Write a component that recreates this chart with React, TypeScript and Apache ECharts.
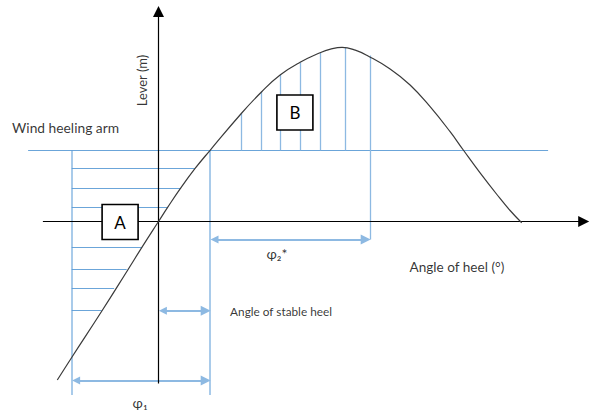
import React, { useEffect, useRef } from "react";
import * as echarts from "echarts";

// Righting lever curve (angle of heel in degrees, lever in m)
const curveDeg = [-25.3, -21.7, -14.2, -7.8, -3.8, 0, 2.2, 5.4, 9.1, 12.9, 20.7, 25.8, 30.4, 35.4, 40.4, 43.0, 45.9, 49.2, 52.4, 57.9, 62.9, 67.9, 72.9, 76.2, 80.4, 84.6, 87.9, 90.8];
const curveLever = [-0.7925, -0.68, -0.449, -0.246, -0.118, 0, 0.068, 0.163, 0.264, 0.356, 0.54, 0.649, 0.7325, 0.796, 0.844, 0.862, 0.871, 0.857, 0.8275, 0.7625, 0.6825, 0.574, 0.449, 0.3575, 0.243, 0.135, 0.055, -0.006];

// Wind heeling arm
const windLever = 0.356;
const windFrom = -32.6;
const windTo = 97.4;

// Characteristic angles
const phi1Start = -21.7;
const stableAngle = 12.9;
const phi2Angle = 52.9;
const phi2Top = 0.83;
const boundaryBottom = -0.8675;

// Area A hatching (horizontal lines): lever, end angle at the curve
const hatchALever = [0.266, 0.166, 0.069, -0.129, -0.2375, -0.334, -0.446];
const hatchAEnd = [9.1, 5.4, 2.2, -4.2, -7.95, -11.1, -14.2];

// Area B hatching (vertical lines): angle, top lever at the curve
const hatchBDeg = [20.7, 25.6, 30.4, 35.4, 40.4, 46.6];
const hatchBTop = [0.54, 0.649, 0.7325, 0.796, 0.844, 0.871];

// Dimension arrows: lever, from, to
const arrowLever = [-0.09, -0.446, -0.795];
const arrowFrom = [stableAngle, 0, phi1Start];
const arrowTo = [phi2Angle, stableAngle, stableAngle];

// Axes extents
const xAxisFrom = -28.9;
const xAxisTo = 107.6;
const yAxisFrom = -0.81;
const yAxisTo = 1.075;

const FONT = "Lato, 'Open Sans', sans-serif";

export default function App() {
  const ref = useRef<HTMLDivElement>(null);
  useEffect(() => {
    if (!ref.current) return;
    const chart = echarts.init(ref.current, undefined, { renderer: "svg" });

    const blue = "#5B9BD5";
    const lightBlue = "#A9CBEA";

    const hatchLines: any[] = [];
    hatchALever.forEach((lv, i) => hatchLines.push({ coords: [[phi1Start, lv], [hatchAEnd[i], lv]] }));
    hatchLines.push({ coords: [[windFrom, windLever], [windTo, windLever]] });

    const hatchVert: any[] = [];
    hatchBDeg.forEach((d, i) => hatchVert.push({ coords: [[d, windLever], [d, hatchBTop[i]]] }));
    hatchVert.push({ coords: [[phi2Angle, phi2Top], [phi2Angle, arrowLever[0]]] });

    const boundaryLines = [
      { coords: [[phi1Start, windLever], [phi1Start, boundaryBottom]] },
      { coords: [[stableAngle, windLever], [stableAngle, boundaryBottom]] },
    ];

    const inset = 1.1;
    const arrows = arrowLever.map((lv, i) => ({
      coords: [[arrowFrom[i] + inset, lv], [arrowTo[i] - inset, lv]],
    }));

    const labels = [
      { name: "Wind heeling arm", value: [-36.6, 0.47], pos: "right", size: 13.8 },
      { name: "φ₂*", value: [29.6, -0.16], pos: "inside", size: 14 },
      { name: "Angle of heel (°)", value: [74.6, -0.228], pos: "inside", size: 13.6 },
      { name: "Angle of stable heel", value: [17.9, -0.448], pos: "right", size: 11.8 },
      { name: "φ₁", value: [-4.6, -0.905], pos: "inside", size: 14 },
    ];

    chart.setOption({
      animation: false,
      grid: { left: 0, top: 0, right: 0, bottom: 0 },
      xAxis: { type: "value", min: -39.625, max: 108.375, show: false },
      yAxis: { type: "value", min: -0.9625, max: 1.1075, show: false },
      series: [
        {
          type: "lines",
          coordinateSystem: "cartesian2d",
          z: 2,
          lineStyle: { color: lightBlue, width: 2, opacity: 1 },
          data: boundaryLines,
        },
        {
          type: "lines",
          coordinateSystem: "cartesian2d",
          z: 3,
          lineStyle: { color: blue, width: 1, opacity: 0.9 },
          data: hatchLines,
        },
        {
          type: "lines",
          coordinateSystem: "cartesian2d",
          z: 3,
          lineStyle: { color: "#8DB9E2", width: 1.3, opacity: 1 },
          data: hatchVert,
        },
        {
          type: "lines",
          coordinateSystem: "cartesian2d",
          z: 4,
          symbol: ["triangle", "triangle"],
          symbolSize: [8, 10],
          lineStyle: { color: "#8DB9E2", width: 1.8, opacity: 1 },
          itemStyle: { color: blue },
          data: arrows,
        },
        {
          type: "lines",
          coordinateSystem: "cartesian2d",
          z: 5,
          symbol: ["none", "triangle"],
          symbolSize: [9, 11],
          lineStyle: { color: "#000", width: 1.2, opacity: 1 },
          itemStyle: { color: "#000" },
          data: [
            { coords: [[xAxisFrom, 0], [xAxisTo - 1.3, 0]] },
            { coords: [[0, yAxisFrom], [0, yAxisTo - 0.025]] },
          ],
        },
        {
          type: "line",
          z: 6,
          smooth: 0.45,
          showSymbol: false,
          lineStyle: { color: "#3a3a3a", width: 1.2 },
          data: curveDeg.map((d, i) => [d, curveLever[i]]),
        },
        {
          type: "scatter",
          z: 8,
          symbol: "rect",
          symbolSize: [36, 35],
          itemStyle: { color: "#fff", borderColor: "#000", borderWidth: 1.6, opacity: 1 },
          label: { show: true, position: "inside", formatter: "{b}", color: "#000", fontSize: 17, fontFamily: FONT },
          data: [
            { name: "A", value: [-9.6, -0.0025] },
            { name: "B", value: [34.1, 0.545] },
          ],
        },
        {
          type: "scatter",
          z: 9,
          symbolSize: 0,
          data: labels.map((l) => ({
            name: l.name,
            value: l.value,
            label: {
              show: true,
              position: l.pos,
              distance: 0,
              formatter: "{b}",
              color: "#000",
              fontSize: l.size,
              fontFamily: FONT,
            },
          })),
        },
        {
          type: "scatter",
          z: 9,
          symbolSize: 0,
          data: [
            {
              name: "Lever (m)",
              value: [-4.1, 0.705],
              label: {
                show: true,
                position: "inside",
                rotate: 90,
                formatter: "{b}",
                color: "#000",
                fontSize: 13,
                fontFamily: FONT,
              },
            },
          ],
        },
      ],
    });
    return () => chart.dispose();
  }, []);
  return (
    <div
      ref={ref}
      style={{ position: "fixed", left: 0, top: 0, width: 592, height: 414, background: "#fff" }}
    />
  );
}
